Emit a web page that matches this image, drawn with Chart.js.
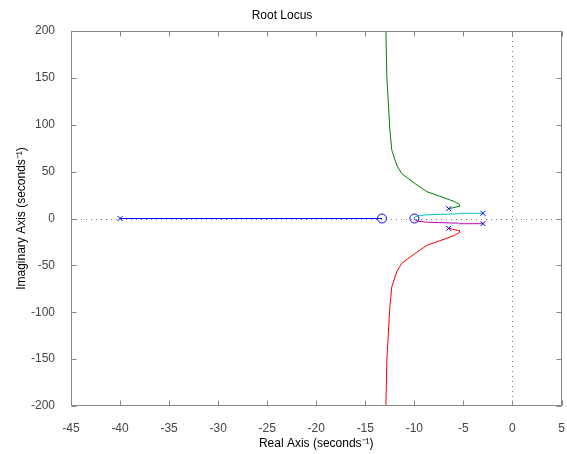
<!DOCTYPE html>
<html lang="en">
<head>
<meta charset="UTF-8">
<title>Root Locus</title>
<script src="https://cdn.jsdelivr.net/npm/chart.js@4.4.1/dist/chart.umd.min.js"></script>
<style>
    html, body { margin: 0; padding: 0; background: #fff; }
    #wrap { width: 567px; height: 454px; }
</style>
</head>
<body>
<div id="wrap"><canvas id="locus"></canvas></div>
<script>
    // poles (x) and zeros (o)
    const poleRe = [-40, -6.5, -6.5, -3, -3];
    const poleIm = [0, 10.5, -10.5, 5.5, -5.5];
    const zeroRe = [-13.3, -10];
    const zeroIm = [0, 0];

    // locus branches
    const blueRe = [-40, -13.3];
    const blueIm = [0, 0];
    const greenRe = [-6.5, -5.4, -5.4, -5.9, -7.2, -8.7, -9.9, -11.3, -11.8, -12.3, -12.5, -12.65, -12.8, -12.9, -12.95];
    const greenIm = [10.5, 13, 15, 18, 23, 28.5, 37, 48, 57, 73, 95, 123, 150, 200, 260];
    const redRe = [-6.5, -5.4, -5.4, -5.9, -7.2, -8.7, -9.9, -11.3, -11.8, -12.3, -12.5, -12.65, -12.8, -12.9, -12.95];
    const redIm = [-10.5, -13, -15, -18, -23, -28.5, -37, -48, -57, -73, -95, -123, -150, -200, -260];
    const cyanRe = [-3, -5.4, -5.5, -8.6, -9.6, -10, -10];
    const cyanIm = [5.5, 5.6, 5, 4, 3, 1, 0];
    const magentaRe = [-3, -5.4, -5.5, -8.6, -9.6, -10, -10];
    const magentaIm = [-5.5, -5.6, -5, -4, -3, -1, 0];

    const xTicks = [-45, -40, -35, -30, -25, -20, -15, -10, -5, 0, 5];
    const yTicks = [-200, -150, -100, -50, 0, 50, 100, 150, 200];

    function pts(re, im) {
        return re.map((v, i) => ({x: v, y: im[i]}));
    }

    function branch(label, re, im, color) {
        return {
            label: label,
            data: pts(re, im),
            showLine: true,
            borderColor: color,
            backgroundColor: color,
            borderWidth: 1,
            pointRadius: 0,
            tension: 0
        };
    }

    const axisFont = {family: 'Liberation Sans', size: 12};
    const boxColor = '#868686';

    // box, inward ticks on all four sides, dotted zero lines
    const matlabAxes = {
        id: 'matlabAxes',
        beforeDatasetsDraw(chart) {
            const {ctx, chartArea: a, scales: {x, y}} = chart;
            ctx.save();
            ctx.strokeStyle = '#7a7a7a';
            ctx.lineWidth = 1;
            ctx.setLineDash([1, 4]);
            const x0 = Math.round(x.getPixelForValue(0)) + 0.5;
            const y0 = Math.round(y.getPixelForValue(0)) + 0.5;
            ctx.beginPath();
            ctx.moveTo(a.left, y0); ctx.lineTo(a.right, y0);
            ctx.moveTo(x0, a.top); ctx.lineTo(x0, a.bottom);
            ctx.stroke();
            ctx.restore();
        },
        afterDraw(chart) {
            const {ctx, chartArea: a, scales: {x, y}} = chart;
            const L = Math.round(a.left) + 0.5, R = Math.round(a.right) - 0.5;
            const T = Math.round(a.top) + 0.5, B = Math.round(a.bottom) - 0.5;
            const len = 5;
            ctx.save();
            ctx.strokeStyle = boxColor;
            ctx.lineWidth = 1;
            ctx.beginPath();
            ctx.rect(L, T, R - L, B - T);
            xTicks.forEach(v => {
                const px = Math.round(x.getPixelForValue(v)) + 0.5;
                ctx.moveTo(px, B); ctx.lineTo(px, B - len);
                ctx.moveTo(px, T); ctx.lineTo(px, T + len);
            });
            yTicks.forEach(v => {
                const py = Math.round(y.getPixelForValue(v)) + 0.5;
                ctx.moveTo(L, py); ctx.lineTo(L + len, py);
                ctx.moveTo(R, py); ctx.lineTo(R - len, py);
            });
            ctx.stroke();
            ctx.restore();
        }
    };

    new Chart(document.getElementById('locus'), {
        type: 'scatter',
        data: {
            datasets: [
                {
                    label: 'poles',
                    data: pts(poleRe, poleIm),
                    pointStyle: 'crossRot',
                    pointRadius: 3.5,
                    borderColor: '#0000ff',
                    borderWidth: 1,
                    order: 0
                },
                {
                    label: 'zeros',
                    data: pts(zeroRe, zeroIm),
                    pointStyle: 'circle',
                    pointRadius: 4.5,
                    borderColor: '#0000ff',
                    backgroundColor: 'rgba(0,0,0,0)',
                    borderWidth: 1,
                    order: 0
                },
                branch('b1', blueRe, blueIm, '#0000ff'),
                branch('b2', greenRe, greenIm, '#008000'),
                branch('b3', redRe, redIm, '#ff0000'),
                branch('b4', cyanRe, cyanIm, '#00bfbf'),
                branch('b5', magentaRe, magentaIm, '#bf00bf')
            ]
        },
        options: {
            responsive: true,
            maintainAspectRatio: false,
            animation: false,
            events: [],
            layout: {padding: {left: 0, right: 3, top: 0, bottom: 0}},
            plugins: {
                legend: {display: false},
                tooltip: {enabled: false},
                title: {
                    display: true,
                    text: 'Root Locus',
                    color: '#000',
                    font: {family: 'Liberation Sans', size: 12, weight: 'normal'},
                    padding: {top: 8, bottom: 8.6}
                }
            },
            scales: {
                x: {
                    type: 'linear',
                    min: -45,
                    max: 5,
                    afterFit(scale) {
                        scale.height = 48;
                        scale.paddingLeft = 0;
                        scale.paddingRight = 0;
                    },
                    afterBuildTicks(scale) { scale.ticks = xTicks.map(v => ({value: v})); },
                    grid: {display: false},
                    border: {display: false},
                    ticks: {color: '#444', font: axisFont, padding: 7, maxRotation: 0},
                    title: {
                        display: true,
                        text: 'Real Axis (seconds\u207B\u00B9)',
                        color: '#000',
                        font: axisFont,
                        padding: {top: 0, bottom: 3}
                    }
                },
                y: {
                    type: 'linear',
                    min: -200,
                    max: 200,
                    afterFit(scale) {
                        scale.width = 71;
                        scale.paddingTop = 0;
                        scale.paddingBottom = 0;
                    },
                    afterBuildTicks(scale) { scale.ticks = yTicks.map(v => ({value: v})); },
                    grid: {display: false},
                    border: {display: false},
                    ticks: {color: '#444', font: axisFont, padding: 8},
                    title: {
                        display: true,
                        text: 'Imaginary Axis (seconds\u207B\u00B9)',
                        color: '#000',
                        font: axisFont,
                        padding: {top: 14, bottom: 0}
                    }
                }
            }
        },
        plugins: [matlabAxes]
    });
</script>
</body>
</html>
